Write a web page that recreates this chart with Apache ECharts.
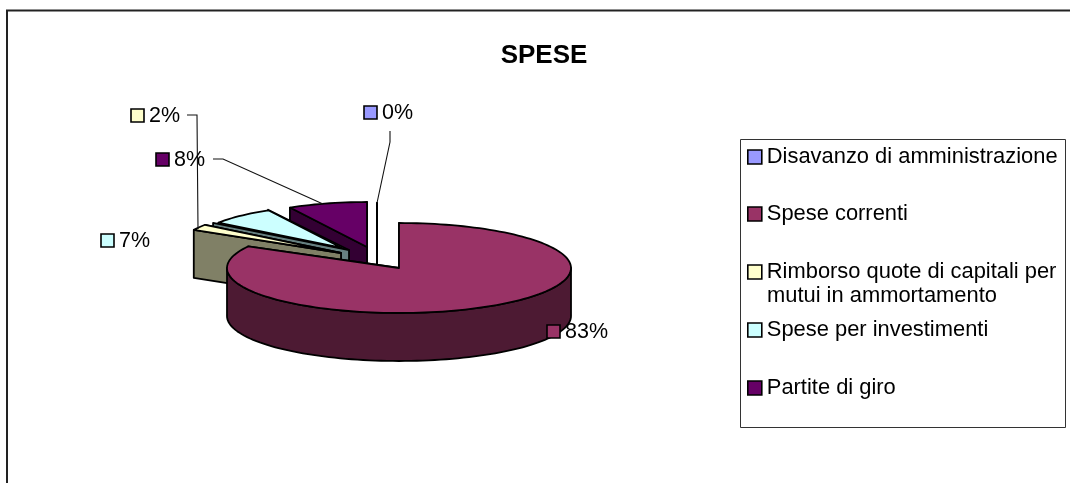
<!DOCTYPE html>
<html lang="it">
  <head>
    <meta charset="UTF-8" />
    <title>SPESE</title>
    <script src="https://cdn.jsdelivr.net/npm/echarts@6/dist/echarts.min.js"></script>
    <style>
      html, body { margin: 0; padding: 0; background: #fff; }
    </style>
  </head>
  <body>
    <div id="chart" style="width: 1070px; height: 483px"></div>
    <script>
      // data
      const categories = [
        'Disavanzo di amministrazione',
        'Spese correnti',
        'Rimborso quote di capitali per\nmutui in ammortamento',
        'Spese per investimenti',
        'Partite di giro',
      ]
      const percentages = [0, 83, 2, 7, 8]

      // colours per slice: top face and side wall
      const topColors = ['#9999FF', '#993366', '#FFFFCC', '#CCFFFF', '#660066']
      const wallColors = ['#4D4D80', '#4D1A33', '#808066', '#668080', '#330033']

      // fake 3D pie: ellipse of each slice (the chart is exploded, with perspective)
      const pieCenter = [399, 268]
      const depth = 48
      const explodeX = [-22, 0, -58, -57, -32]
      const explodeY = [-20, 0, -15, -20, -21]
      const radiusX = [172, 172, 168, 153, 160]
      const radiusY = [45, 45, 48, 43, 45]
      // the investimenti wall sits slightly off its top face
      const wallShift = { 3: { dx: 7, dy: 2, rx: 168, ry: 46 } }

      // painter's order, back to front
      const drawOrder = [4, 0, 3, 2, 1]

      // data label marker box and leader line per slice
      const labelBox = [[364, 106], [547, 325], [131, 109], [101, 234], [156, 153]]
      const labelTextGap = 5
      const leaders = [
        [[390, 131], [390, 142], [377, 203]],
        null,
        [[187, 115], [197, 115], [198, 229]],
        null,
        [[213, 159], [223, 159], [323, 204]],
      ]

      const legendLeft = 747
      const legendTops = [145.5, 202.5, 260.5, 318.5, 376.5]
      const FONT = '"Liberation Sans", Arial, sans-serif'
      const total = percentages.reduce((a, b) => a + b, 0)

      function point(cx, cy, rx, ry, deg) {
        const a = (deg * Math.PI) / 180
        return [cx + rx * Math.sin(a), cy - ry * Math.cos(a)]
      }

      function arcPoints(cx, cy, rx, ry, from, to) {
        const pts = []
        const steps = Math.max(1, Math.ceil((to - from) / 2))
        for (let i = 0; i <= steps; i++) {
          pts.push(point(cx, cy, rx, ry, from + ((to - from) * i) / steps))
        }
        return pts
      }

      function renderSlice(idx, api) {
        const value = api.value(0)
        const before = percentages.slice(0, idx).reduce((a, b) => a + b, 0)
        const start = (before / total) * 360
        const end = start + (value / total) * 360
        const cx = pieCenter[0] + explodeX[idx]
        const cy = pieCenter[1] + explodeY[idx]
        const rx = radiusX[idx]
        const ry = radiusY[idx]
        const stroke = { stroke: '#000', lineWidth: 1.8, lineJoin: 'round' }
        const children = []

        // radial walls (the start edge is the nearer one), then the outer wall
        const w = wallShift[idx] || { dx: 0, dy: 0, rx, ry }
        const wx = cx + w.dx
        const wy = cy + w.dy
        ;[end, start].forEach(deg => {
          const p = point(wx, wy, w.rx, w.ry, deg)
          children.push({
            type: 'polygon',
            shape: { points: [p, [wx, wy], [wx, wy + depth], [p[0], p[1] + depth]] },
            style: { fill: wallColors[idx], ...stroke },
          })
        })
        const lo = Math.max(start, 90)
        const hi = Math.min(end, 270)
        if (hi > lo) {
          const upper = arcPoints(cx, cy, rx, ry, lo, hi)
          const lower = upper.map(p => [p[0], p[1] + depth]).reverse()
          children.push({
            type: 'polygon',
            shape: { points: upper.concat(lower) },
            style: { fill: wallColors[idx], ...stroke },
          })
        }

        // top face
        children.push({
          type: 'polygon',
          shape: { points: [[cx, cy]].concat(arcPoints(cx, cy, rx, ry, start, end)) },
          style: { fill: topColors[idx], ...stroke },
        })
        return { type: 'group', children }
      }

      // labels go in their own series so they stay above every slice
      function renderLabel(idx, api) {
        const box = labelBox[idx]
        const children = []
        if (leaders[idx]) {
          children.push({
            type: 'polyline',
            shape: { points: leaders[idx] },
            style: { fill: null, stroke: '#111', lineWidth: 1.1 },
          })
        }
        children.push({
          type: 'rect',
          shape: { x: box[0], y: box[1], width: 13, height: 13 },
          style: { fill: topColors[idx], stroke: '#000', lineWidth: 1.6 },
        })
        children.push({
          type: 'text',
          style: {
            text: api.value(0) + '%',
            x: box[0] + 13 + labelTextGap,
            y: box[1] + 7,
            fill: '#000',
            font: '21.5px ' + FONT,
            verticalAlign: 'middle',
          },
        })
        return { type: 'group', children }
      }

      const sliceSeries = drawOrder.map(idx => ({
        type: 'custom',
        name: categories[idx],
        coordinateSystem: 'none',
        silent: true,
        animation: false,
        itemStyle: { color: topColors[idx] },
        data: [[percentages[idx]]],
        renderItem: (params, api) => renderSlice(idx, api),
      }))

      const labelSeries = percentages.map((v, idx) => ({
        type: 'custom',
        name: 'label ' + idx,
        coordinateSystem: 'none',
        silent: true,
        animation: false,
        data: [[v]],
        renderItem: (params, api) => renderLabel(idx, api),
      }))

      const myChart = echarts.init(document.getElementById('chart'), null, { renderer: 'canvas' })
      myChart.setOption({
        animation: false,
        backgroundColor: '#fff',
        title: {
          text: 'SPESE',
          left: 539,
          top: 38,
          textAlign: 'center',
          textStyle: { fontFamily: FONT, fontSize: 26, fontWeight: 'bold', color: '#000' },
        },
        // one legend per entry: rows are evenly spaced. The marker stays on the first line,
        // so the legend shows that line and the wrapped part is a graphic text below
        legend: categories.map((name, i) => ({
          data: [name],
          left: legendLeft,
          top: legendTops[i],
          orient: 'vertical',
          icon: 'rect',
          itemWidth: 14,
          itemHeight: 14,
          itemGap: 0,
          padding: 0,
          selectedMode: false,
          formatter: n => n.split('\n')[0],
          itemStyle: { borderColor: '#000', borderWidth: 1.6 },
          textStyle: { fontFamily: FONT, fontSize: 21.9, color: '#000', lineHeight: 23 },
        })),
        graphic: [
          {
            type: 'polyline',
            silent: true,
            z: -1,
            shape: { points: [[7, 483], [7, 10.5], [1070, 10.5]] },
            style: { fill: null, stroke: '#222', lineWidth: 2 },
          },
          {
            type: 'rect',
            silent: true,
            z: -1,
            shape: { x: 740.5, y: 139.5, width: 325, height: 288 },
            style: { fill: '#fff', stroke: '#333', lineWidth: 1 },
          },
          {
            type: 'text',
            silent: true,
            style: {
              text: categories[2].split('\n')[1],
              x: 767,
              y: 296,
              fill: '#000',
              font: '21.9px ' + FONT,
              verticalAlign: 'middle',
            },
          },
        ],
        series: sliceSeries.concat(labelSeries),
      })
    </script>
  </body>
</html>
